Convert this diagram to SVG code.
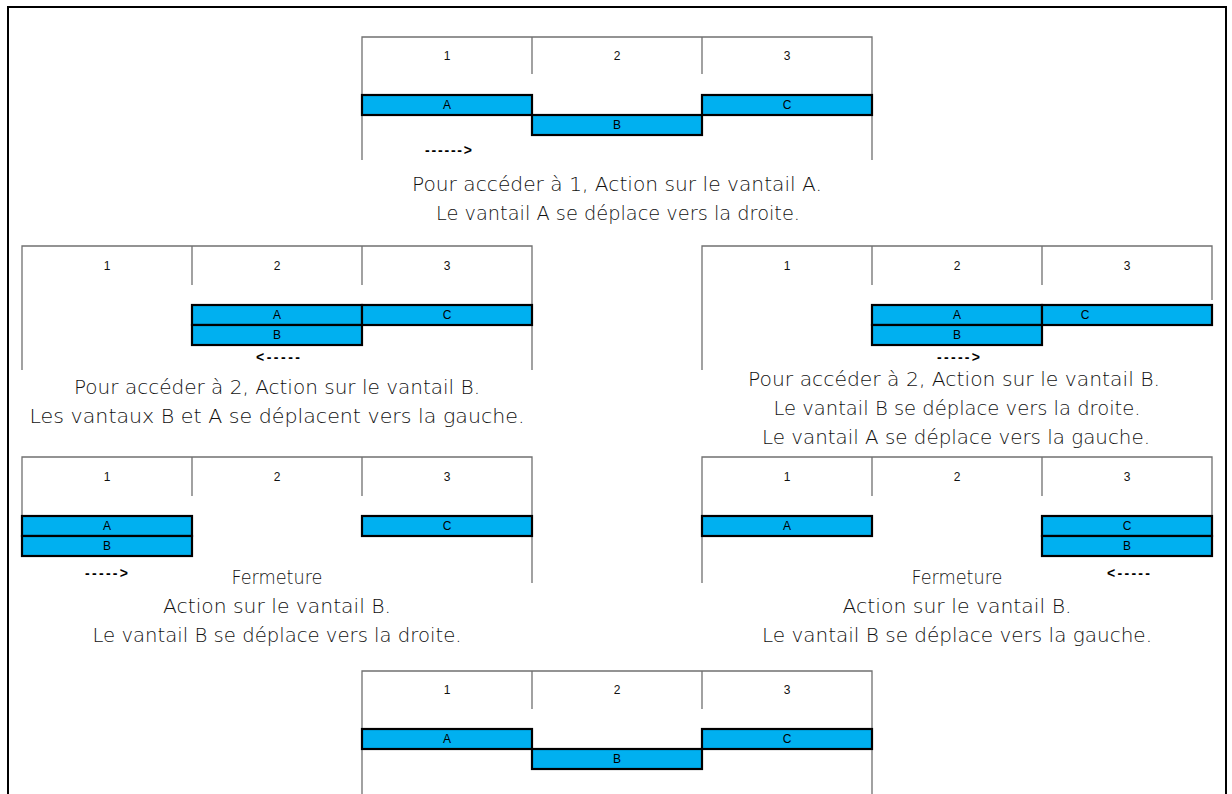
<svg xmlns="http://www.w3.org/2000/svg" width="1232" height="794" viewBox="0 0 1232 794">
<style>
.frame{fill:none;stroke:#707070;stroke-width:1.3}
.bar{fill:#00B0F0;stroke:#000;stroke-width:2.2}
.num{font-family:"Liberation Sans",Arial,sans-serif;font-size:12px;fill:#111;text-anchor:middle}
.lbl{font-family:"Liberation Sans",Arial,sans-serif;font-size:12px;fill:#000;text-anchor:middle}
.arr{font-family:"Liberation Sans",Arial,sans-serif;font-size:14px;font-weight:bold;fill:#000}
.cap{font-family:"DejaVu Sans",sans-serif;font-weight:200;font-size:20px;fill:#111;text-anchor:middle}
</style>
<rect width="1232" height="794" fill="#fff"/>
<path d="M8,800 V7 H1226 V800" fill="none" stroke="#000" stroke-width="2"/>

<g id="diagram-top">
<path class="frame" d="M362,160 V37 H872 V160 M532,37 V74 M702,37 V74"/>
<text class="num" x="447" y="60">1</text><text class="num" x="617" y="60">2</text><text class="num" x="787" y="60">3</text>
<rect class="bar" x="362" y="95" width="170" height="20"/><text class="lbl" x="447" y="109">A</text>
<rect class="bar" x="532" y="115" width="170" height="20"/><text class="lbl" x="617" y="129">B</text>
<rect class="bar" x="702" y="95" width="170" height="20"/><text class="lbl" x="787" y="109">C</text>
<text class="arr" x="425" y="155" textLength="47" lengthAdjust="spacing">------&gt;</text>
<text class="cap" x="617" y="191" textLength="410" lengthAdjust="spacingAndGlyphs">Pour accéder à 1, Action sur le vantail A.</text>
<text class="cap" x="618" y="220" textLength="364" lengthAdjust="spacingAndGlyphs">Le vantail A se déplace vers la droite.</text>
</g>

<g id="diagram-mid-left">
<path class="frame" d="M22,370 V246 H532 V370 M192,246 V285 M362,246 V285"/>
<text class="num" x="107" y="270">1</text><text class="num" x="277" y="270">2</text><text class="num" x="447" y="270">3</text>
<rect class="bar" x="192" y="305" width="170" height="20"/><text class="lbl" x="277" y="319">A</text>
<rect class="bar" x="362" y="305" width="170" height="20"/><text class="lbl" x="447" y="319">C</text>
<rect class="bar" x="192" y="325" width="170" height="20"/><text class="lbl" x="277" y="339">B</text>
<text class="arr" x="256" y="362" textLength="44" lengthAdjust="spacing">&lt;-----</text>
<text class="cap" x="277" y="394" textLength="406" lengthAdjust="spacingAndGlyphs">Pour accéder à 2, Action sur le vantail B.</text>
<text class="cap" x="277" y="423" textLength="495" lengthAdjust="spacingAndGlyphs">Les vantaux B et A se déplacent vers la gauche.</text>
</g>

<g id="diagram-mid-right">
<path class="frame" d="M702,370 V246 H1212 V300 M872,246 V285 M1042,246 V285"/>
<text class="num" x="787" y="270">1</text><text class="num" x="957" y="270">2</text><text class="num" x="1127" y="270">3</text>
<rect class="bar" x="872" y="305" width="170" height="20"/><text class="lbl" x="957" y="319">A</text>
<rect class="bar" x="1042" y="305" width="170" height="20"/><text class="lbl" x="1085" y="319">C</text>
<rect class="bar" x="872" y="325" width="170" height="20"/><text class="lbl" x="957" y="339">B</text>
<text class="arr" x="937" y="362" textLength="43" lengthAdjust="spacing">-----&gt;</text>
<text class="cap" x="954" y="386" textLength="412" lengthAdjust="spacingAndGlyphs">Pour accéder à 2, Action sur le vantail B.</text>
<text class="cap" x="957" y="415" textLength="367" lengthAdjust="spacingAndGlyphs">Le vantail B se déplace vers la droite.</text>
<text class="cap" x="956" y="444" textLength="388" lengthAdjust="spacingAndGlyphs">Le vantail A se déplace vers la gauche.</text>
</g>

<g id="diagram-low-left">
<path class="frame" d="M22,516 V457 H532 V583 M192,457 V496 M362,457 V496"/>
<text class="num" x="107" y="481">1</text><text class="num" x="277" y="481">2</text><text class="num" x="447" y="481">3</text>
<rect class="bar" x="22" y="516" width="170" height="20"/><text class="lbl" x="107" y="530">A</text>
<rect class="bar" x="22" y="536" width="170" height="20"/><text class="lbl" x="107" y="550">B</text>
<rect class="bar" x="362" y="516" width="170" height="20"/><text class="lbl" x="447" y="530">C</text>
<text class="arr" x="85" y="578" textLength="43" lengthAdjust="spacing">-----&gt;</text>
<text class="cap" x="277" y="584" textLength="91" lengthAdjust="spacingAndGlyphs">Fermeture</text>
<text class="cap" x="277" y="613" textLength="228" lengthAdjust="spacingAndGlyphs">Action sur le vantail B.</text>
<text class="cap" x="277" y="642" textLength="369" lengthAdjust="spacingAndGlyphs">Le vantail B se déplace vers la droite.</text>
</g>

<g id="diagram-low-right">
<path class="frame" d="M702,583 V457 H1212 V516 M872,457 V496 M1042,457 V496"/>
<text class="num" x="787" y="481">1</text><text class="num" x="957" y="481">2</text><text class="num" x="1127" y="481">3</text>
<rect class="bar" x="702" y="516" width="170" height="20"/><text class="lbl" x="787" y="530">A</text>
<rect class="bar" x="1042" y="516" width="170" height="20"/><text class="lbl" x="1127" y="530">C</text>
<rect class="bar" x="1042" y="536" width="170" height="20"/><text class="lbl" x="1127" y="550">B</text>
<text class="arr" x="1107" y="578" textLength="43" lengthAdjust="spacing">&lt;-----</text>
<text class="cap" x="957" y="584" textLength="91" lengthAdjust="spacingAndGlyphs">Fermeture</text>
<text class="cap" x="957" y="613" textLength="229" lengthAdjust="spacingAndGlyphs">Action sur le vantail B.</text>
<text class="cap" x="957" y="642" textLength="390" lengthAdjust="spacingAndGlyphs">Le vantail B se déplace vers la gauche.</text>
</g>

<g id="diagram-bottom">
<path class="frame" d="M362,800 V671 H872 V800 M532,671 V709 M702,671 V709"/>
<text class="num" x="447" y="694">1</text><text class="num" x="617" y="694">2</text><text class="num" x="787" y="694">3</text>
<rect class="bar" x="362" y="729" width="170" height="20"/><text class="lbl" x="447" y="743">A</text>
<rect class="bar" x="532" y="749" width="170" height="20"/><text class="lbl" x="617" y="763">B</text>
<rect class="bar" x="702" y="729" width="170" height="20"/><text class="lbl" x="787" y="743">C</text>
</g>
<g id="connectors"/>
</svg>
